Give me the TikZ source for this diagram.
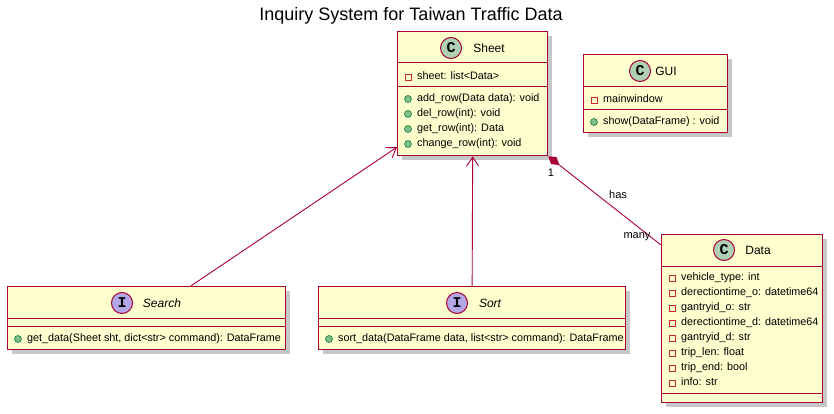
\documentclass[tikz,border=0pt]{standalone}
\usepackage{fontspec}
\setmainfont{Liberation Sans}
\setmonofont{Liberation Mono}
\usetikzlibrary{arrows.meta,shadows,calc}
\definecolor{pfill}{HTML}{FEFECE}
\definecolor{pborder}{HTML}{A80036}
\definecolor{cfill}{HTML}{ADD1B2}
\definecolor{ifill}{HTML}{B4A7E5}
\definecolor{attrcol}{HTML}{C82930}
\definecolor{methfill}{HTML}{84BE84}
\definecolor{methborder}{HTML}{038048}
\tikzset{
  classbox/.style={draw=pborder, fill=pfill, line width=1.3pt, inner sep=0pt, anchor=north west,
    drop shadow={shadow xshift=4pt, shadow yshift=-4pt, fill=black, opacity=0.22}},
  sepline/.style={draw=pborder, line width=1pt},
  member/.style={anchor=west, inner sep=0pt, text height=8pt, text depth=2.5pt, font=\fontsize{10.8}{13}\selectfont},
  cname/.style={inner sep=0pt, font=\fontsize{12}{14}\selectfont},
  attricon/.style={draw=attrcol, line width=0.8pt, minimum size=6pt, inner sep=0pt},
  methicon/.style={circle, fill=methfill, draw=methborder, line width=0.6pt, minimum size=7pt, inner sep=0pt},
  letter/.style={circle, draw=pborder, line width=1pt, minimum size=21pt, inner sep=0pt, font=\ttfamily\bfseries\fontsize{15}{15}\selectfont},
  assoc/.style={draw=pborder, line width=0.9pt},
  openhead/.style={-{Straight Barb[length=9pt,width=12pt]}},
  lbl/.style={inner sep=0pt, font=\fontsize{11}{13}\selectfont}
}
\newcommand{\mattr}[4]{\node[attricon] (#1i) at (#2,#3) {}; \node[member] (#1) at (#2+9,#3) {#4};}
\newcommand{\mmeth}[4]{\node[methicon] (#1i) at (#2,#3) {}; \node[member] (#1) at (#2+9,#3) {#4};}
\begin{document}
\begin{tikzpicture}[x=1pt,y=-1pt]
\useasboundingbox[fill=white] (0,0) rectangle (834,414);

\node[font=\fontsize{18}{21}\selectfont, inner sep=0pt, anchor=base] (title) at (411,21) {Inquiry System for Taiwan Traffic Data};

% Sheet
\node[classbox, minimum width=150pt, minimum height=124pt] (sheet) at (397,31) {};
\draw[sepline] (397,63) -- (547,63);
\draw[sepline] (397,87) -- (547,87);
\node[letter, fill=cfill] (sheetc) at (451,48) {C};
\node[cname] (sheetn) at (489,48) {Sheet};
\mattr{sa}{408}{77}{sheet: list<Data>}
\mmeth{sm1}{408}{99}{add\_row(Data data): void}
\mmeth{sm2}{408}{114}{del\_row(int): void}
\mmeth{sm3}{408}{129}{get\_row(int): Data}
\mmeth{sm4}{408}{144}{change\_row(int): void}

% GUI
\node[classbox, minimum width=144pt, minimum height=78pt] (gui) at (583,54) {};
\draw[sepline] (583,87) -- (727,87);
\draw[sepline] (583,110) -- (727,110);
\node[letter, fill=cfill] (guic) at (640,71) {C};
\node[cname] (guin) at (666,71) {GUI};
\mattr{ga}{594}{100}{mainwindow}
\mmeth{gm}{594}{122}{show(DataFrame) : void}

% Data
\node[classbox, minimum width=161pt, minimum height=168pt] (data) at (661,234) {};
\draw[sepline] (661,266) -- (822,266);
\draw[sepline] (661,393) -- (822,393);
\node[letter, fill=cfill] (datac) at (724,250) {C};
\node[cname] (datan) at (758,250) {Data};
\mattr{da1}{672}{278}{vehicle\_type: int}
\mattr{da2}{672}{293}{derectiontime\_o: datetime64}
\mattr{da3}{672}{308}{gantryid\_o: str}
\mattr{da4}{672}{323}{derectiontime\_d: datetime64}
\mattr{da5}{672}{338}{gantryid\_d: str}
\mattr{da6}{672}{353}{trip\_len: float}
\mattr{da7}{672}{368}{trip\_end: bool}
\mattr{da8}{672}{383}{info: str}

% Search
\node[classbox, minimum width=278pt, minimum height=63pt] (search) at (7,286) {};
\draw[sepline] (7,318) -- (285,318);
\draw[sepline] (7,326) -- (285,326);
\node[letter, fill=ifill] (searchc) at (122,303) {I};
\node[cname, font=\itshape\fontsize{12}{14}\selectfont] (searchn) at (162,303) {Search};
\mmeth{srm}{18}{339}{get\_data(Sheet sht, dict<str> command): DataFrame}

% Sort
\node[classbox, minimum width=307pt, minimum height=63pt] (sort) at (318,286) {};
\draw[sepline] (318,318) -- (625,318);
\draw[sepline] (318,326) -- (625,326);
\node[letter, fill=ifill] (sortc) at (457,303) {I};
\node[cname, font=\itshape\fontsize{12}{14}\selectfont] (sortn) at (490,303) {Sort};
\mmeth{som}{329}{339}{sort\_data(DataFrame data, list<str> command): DataFrame}

% connectors
\draw[assoc, openhead] ($(search.north west)!0.658!(search.north east)$) -- ($(sheet.north west)!0.927!(sheet.south west)$);
\draw[assoc, openhead] (sort.north) -- (sheet.south);
\draw[assoc, {Diamond[length=14pt,width=9pt]}-] (sheet.south east) -- ($(data.north west)!0.065!(data.south west)$);
\node[lbl] (one) at (551,173) {1};
\node[lbl] (has) at (618,195) {has};
\node[lbl] (many) at (637,237) {many};
\end{tikzpicture}
\end{document}
